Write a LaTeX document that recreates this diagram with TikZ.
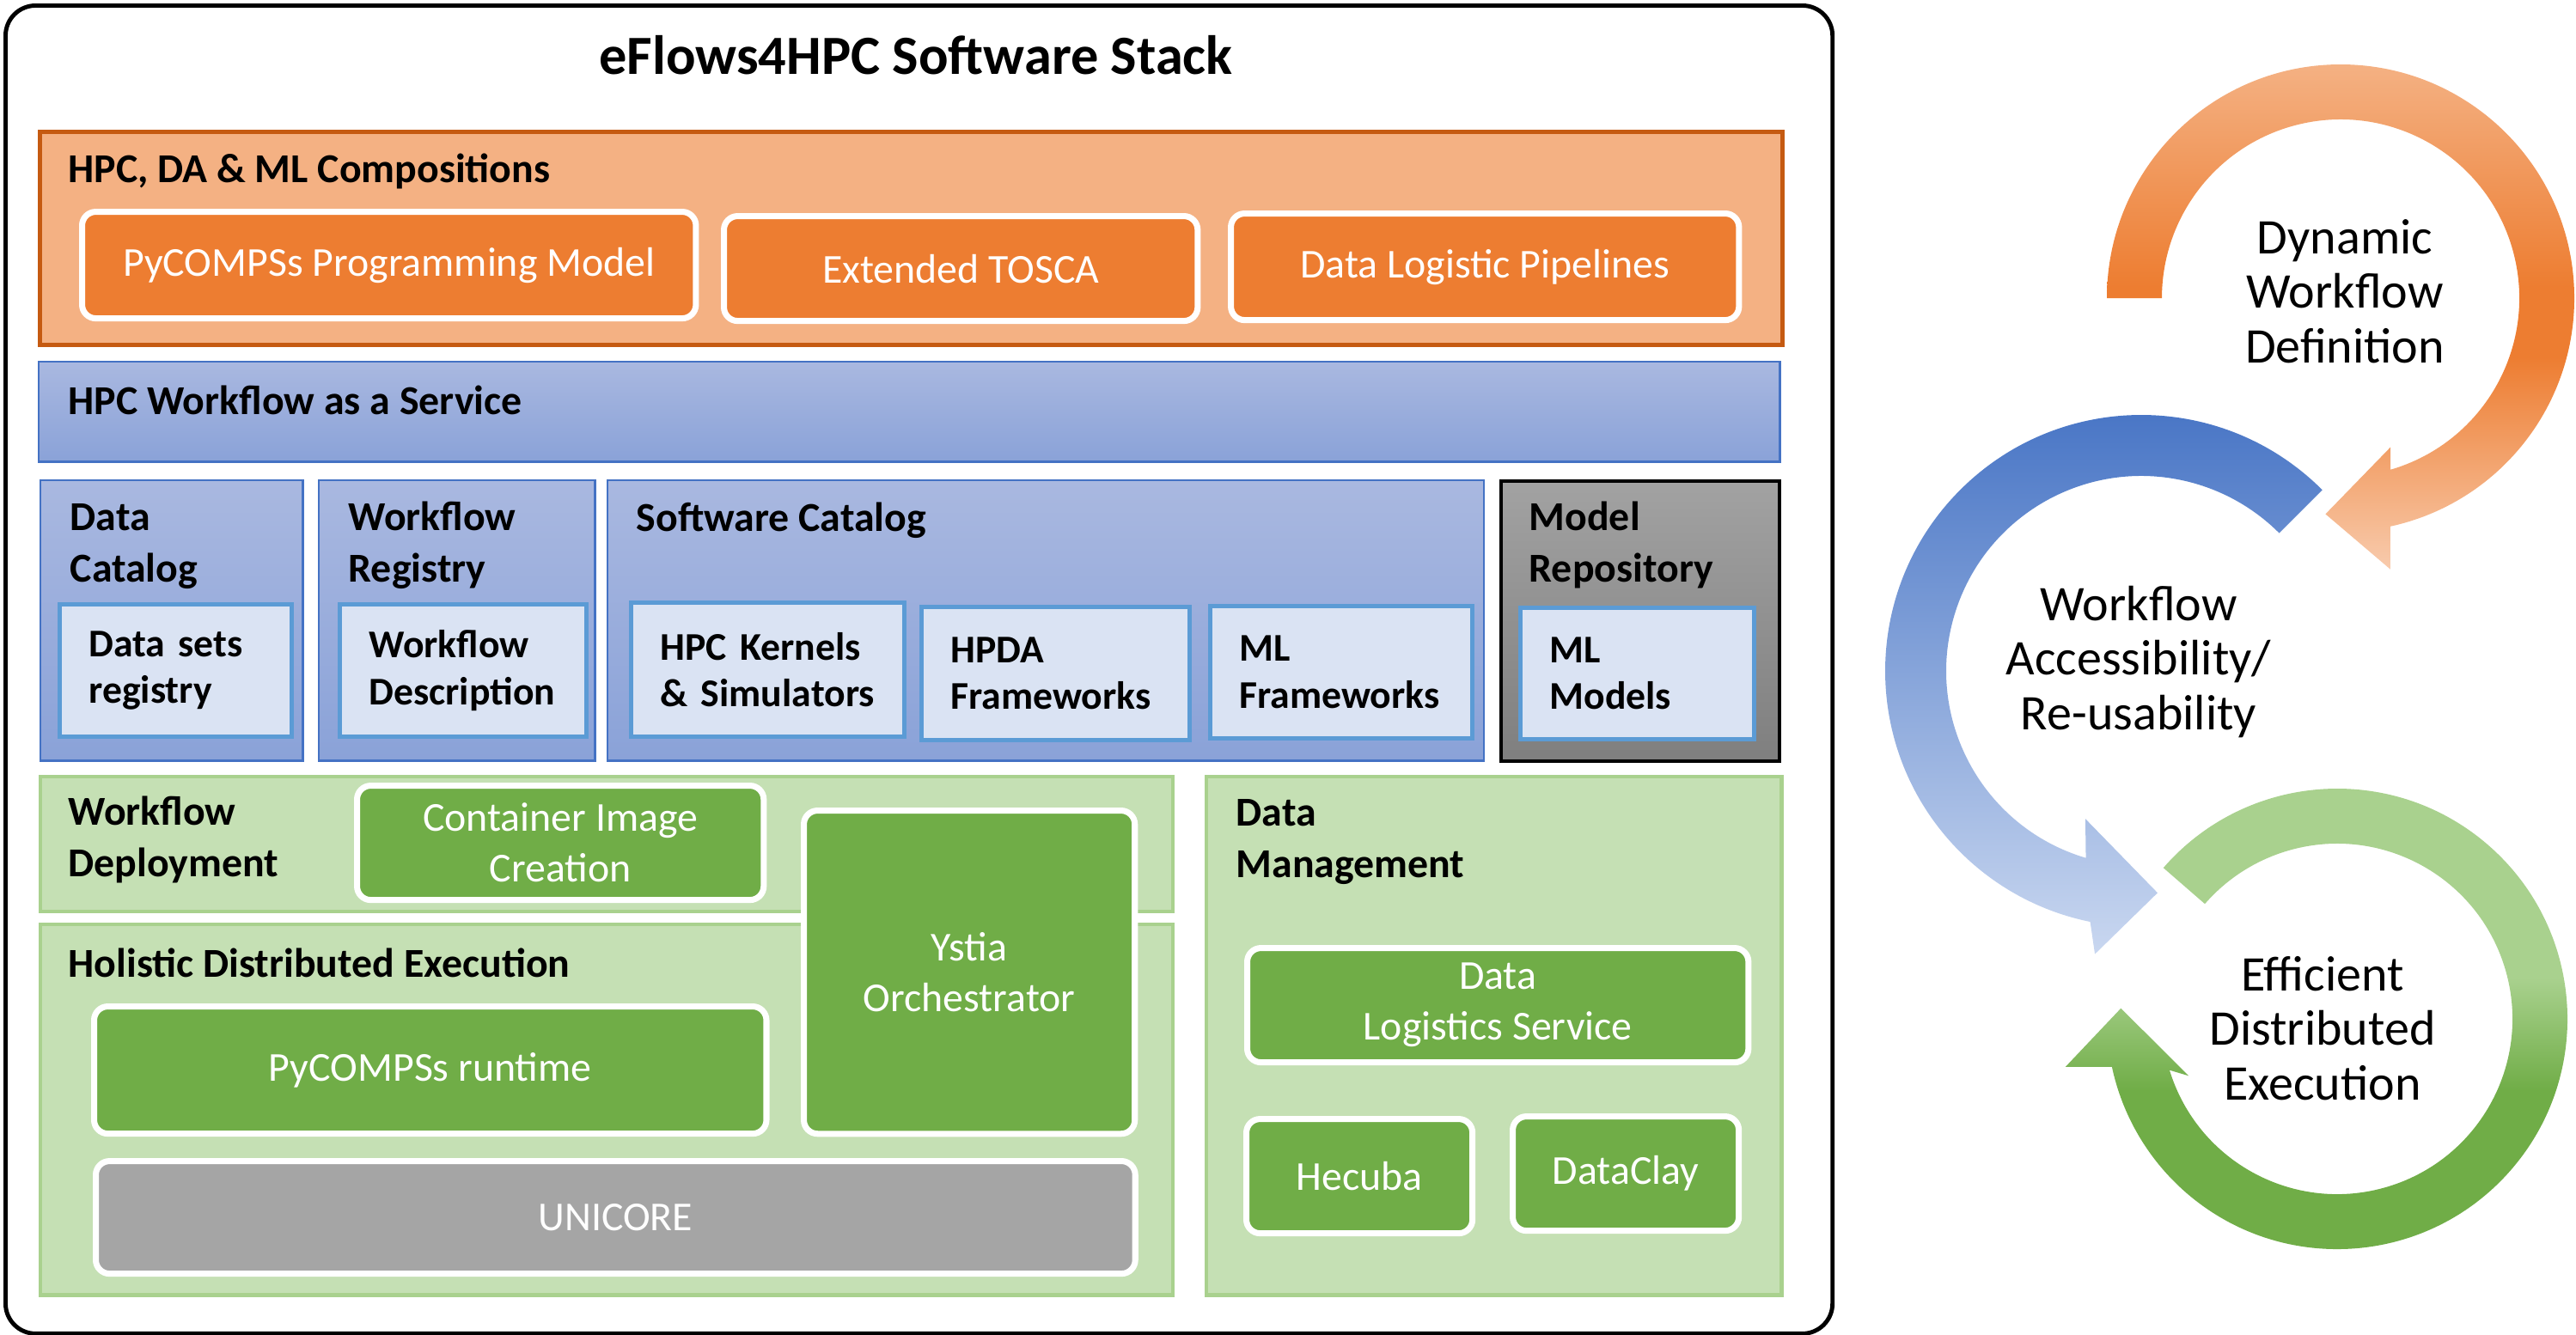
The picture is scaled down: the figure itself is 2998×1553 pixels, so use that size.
\documentclass[tikz,border=0pt]{standalone}
\usepackage{fontspec}
\setmainfont{Carlito}
\usetikzlibrary{calc}

\definecolor{orangeedge}{HTML}{C55A11}
\definecolor{orangepale}{HTML}{F4B183}
\definecolor{orangedeep}{HTML}{ED7D31}
\definecolor{orangelight}{HTML}{F8CBAD}
\definecolor{blueedge}{HTML}{4472C4}
\definecolor{bluetop}{HTML}{A9B8E0}
\definecolor{bluebottom}{HTML}{8AA2D8}
\definecolor{itemedge}{HTML}{5B9BD5}
\definecolor{itemfill}{HTML}{DAE3F3}
\definecolor{greytop}{HTML}{A2A2A2}
\definecolor{greybottom}{HTML}{7F7F7F}
\definecolor{greymid}{HTML}{A5A5A5}
\definecolor{greenedge}{HTML}{A9D18E}
\definecolor{greenpale}{HTML}{C5E0B4}
\definecolor{greendeep}{HTML}{70AD47}
\definecolor{loopbluetop}{HTML}{4472C4}
\definecolor{loopbluebottom}{HTML}{C9D7F0}

\pgfdeclareverticalshading{orangeloop}{100bp}{color(0bp)=(orangelight); color(25bp)=(orangelight);
    color(46bp)=(orangedeep); color(53bp)=(orangedeep); color(75bp)=(orangepale); color(100bp)=(orangepale)}
\pgfdeclareverticalshading{greenloop}{100bp}{color(0bp)=(greendeep); color(43bp)=(greendeep);
    color(54bp)=(greenedge); color(100bp)=(greenedge)}

\newcommand\stacktitle{\fontsize{18.3}{22}\selectfont\bfseries}
\newcommand\stackhead{\fontsize{13.6}{16.8}\selectfont\bfseries}
\newcommand\stackitem{\fontsize{13}{15.5}\selectfont\bfseries}
\newcommand\stacktile{\fontsize{13.6}{16.8}\selectfont}
\newcommand\stackloop{\fontsize{16.5}{18}\selectfont}

\tikzset{
    stackframe/.style = {draw, line width = 1.4pt, rounded corners = 0.35cm, anchor = north west, inner sep = 0pt},
    layer/.style = {anchor = north west, inner sep = 0pt},
    orangelayer/.style = {layer, draw = orangeedge, fill = orangepale, line width = 1.3pt},
    bluelayer/.style = {layer, draw = blueedge, top color = bluetop, bottom color = bluebottom, line width = 0.7pt},
    greylayer/.style = {layer, draw = black, top color = greytop, bottom color = greybottom, line width = 1pt},
    greenlayer/.style = {layer, draw = greenedge, fill = greenpale, line width = 1.2pt},
    tile/.style = {anchor = north west, draw = white, line width = 2pt, rounded corners = 0.16cm,
        text = white, align = center, font = \stacktile},
    orangetile/.style = {tile, fill = orangedeep},
    greentile/.style = {tile, fill = greendeep},
    greytile/.style = {tile, fill = greymid},
    item/.style = {anchor = north west, draw = itemedge, fill = itemfill, line width = 1.4pt,
        inner xsep = 0.34cm, align = left, font = \stackitem},
    heading/.style = {anchor = base west, inner sep = 0pt, align = left, font = \stackhead},
    looptext/.style = {anchor = base, inner sep = 0pt, align = center, font = \stackloop},
}

\begin{document}
\begin{tikzpicture}[x = 0.01cm, y = 0.01cm]
\useasboundingbox (0,0) rectangle (2998,-1553);

% software stack (two-line headings sit on their last baseline)
\node[stackframe, minimum width = 21.25cm, minimum height = 15.45cm] (stack) at (4,-4) {};
\node[font = \stacktitle, anchor = base] (title) at (1066,-86) {eFlows4HPC Software Stack};

\node[orangelayer, minimum width = 20.27cm, minimum height = 2.48cm] (compositions) at (44,-151) {};
\node[heading] (compositionshead) at (79,-212) {HPC, DA \& ML Compositions};
\node[orangetile, minimum width = 7.14cm, minimum height = 1.24cm] (pycompss) at (92,-243) {PyCOMPSs Programming Model};
\node[orangetile, minimum width = 5.51cm, minimum height = 1.22cm] (tosca) at (839,-248) {Extended TOSCA};
\node[orangetile, minimum width = 5.91cm, minimum height = 1.24cm] (pipelines) at (1429,-245) {Data Logistic Pipelines};

\node[bluelayer, minimum width = 20.25cm, minimum height = 1.16cm] (service) at (44,-420) {};
\node[heading] (servicehead) at (79,-482) {HPC Workflow as a Service};

\node[bluelayer, minimum width = 3.05cm, minimum height = 3.26cm] (datacat) at (46,-558) {};
\node[heading] (datacathead) at (81,-677) {Data\\Catalog};
\node[item, minimum width = 2.70cm, minimum height = 1.54cm, text width = 2.02cm] (datasets) at (67,-701) {Data sets\\registry};

\node[bluelayer, minimum width = 3.21cm, minimum height = 3.26cm] (wfreg) at (370,-558) {};
\node[heading] (wfreghead) at (405,-677) {Workflow\\Registry};
\node[item, minimum width = 2.87cm, minimum height = 1.54cm, text width = 2.19cm] (wfdesc) at (393,-701) {Workflow\\Description};

\node[bluelayer, minimum width = 10.19cm, minimum height = 3.26cm] (swcat) at (706,-558) {};
\node[heading] (swcathead) at (740,-618) {Software Catalog};
\node[item, minimum width = 3.18cm, minimum height = 1.56cm, text width = 2.50cm] (kernels) at (732,-699) {HPC Kernels\\\& Simulators};
\node[item, minimum width = 3.12cm, minimum height = 1.55cm, text width = 2.44cm] (hpda) at (1070,-704) {HPDA\\Frameworks};
\node[item, minimum width = 3.05cm, minimum height = 1.54cm, text width = 2.37cm] (mlfw) at (1406,-703) {ML\\Frameworks};

\node[greylayer, minimum width = 3.24cm, minimum height = 3.26cm] (modelrepo) at (1745,-558) {};
\node[heading] (modelhead) at (1779,-677) {Model\\Repository};
\node[item, minimum width = 2.72cm, minimum height = 1.53cm, text width = 2.04cm] (mlmodels) at (1767,-705) {ML\\Models};

\node[greenlayer, minimum width = 13.17cm, minimum height = 1.57cm] (deploy) at (45,-902) {};
\node[heading] (deployhead) at (79,-1020) {Workflow\\Deployment};
\node[greentile, minimum width = 4.73cm, minimum height = 1.33cm] (container) at (412,-911) {Container Image\\Creation};

\node[greenlayer, minimum width = 13.17cm, minimum height = 4.31cm] (holistic) at (45,-1074) {};
\node[heading] (holistichead) at (79,-1137) {Holistic Distributed Execution};
\node[greentile, minimum width = 7.82cm, minimum height = 1.48cm] (runtime) at (106,-1168) {PyCOMPSs runtime};
\node[greytile, minimum width = 12.09cm, minimum height = 1.31cm] (unicore) at (108,-1348) {UNICORE};
\node[greentile, minimum width = 3.85cm, minimum height = 3.76cm] (ystia) at (932,-940) {Ystia\\Orchestrator};

\node[greenlayer, minimum width = 6.69cm, minimum height = 6.03cm] (datamgmt) at (1402,-902) {};
\node[heading] (datamgmthead) at (1438,-1021) {Data\\Management};
\node[greentile, minimum width = 5.83cm, minimum height = 1.33cm] (logistics) at (1448,-1100) {Data\\Logistics Service};
\node[greentile, minimum width = 2.63cm, minimum height = 1.33cm] (hecuba) at (1447,-1299) {Hecuba};
\node[greentile, minimum width = 2.63cm, minimum height = 1.33cm] (dataclay) at (1757,-1296) {DataClay};

% lifecycle loops
\coordinate (defloop) at (2724,-347);
\coordinate (accloop) at (2492,-781);
\coordinate (execloop) at (2720,-1186);

\shade[shading = orangeloop] ($(defloop)+(180:272)$) arc[start angle = 180, end angle = -77.7, radius = 272]
    -- ($(defloop)+(-79.6:321)$) -- ($(defloop)+(-94:252)$) -- ($(defloop)+(-71.5:183)$)
    -- ($(defloop)+(-73.8:208)$) arc[start angle = -73.8, end angle = 180, radius = 208] -- cycle;
\shade[top color = loopbluetop, bottom color = loopbluebottom] ($(accloop)+(45:298)$) arc[start angle = 45, end angle = 258.5, radius = 298]
    -- ($(accloop)+(260.7:334)$) -- ($(accloop)+(274.2:259)$) -- ($(accloop)+(249.3:184)$)
    -- ($(accloop)+(253.5:227)$) arc[start angle = 253.5, end angle = 45, radius = 227] -- cycle;
\shade[shading = greenloop] ($(execloop)+(139:268)$) arc[start angle = 139, end angle = -168, radius = 268]
    -- ($(execloop)+(-170:321)$) -- ($(execloop)+(-182.8:252)$) -- ($(execloop)+(-159:185)$)
    -- ($(execloop)+(-163:204)$) arc[start angle = -163, end angle = 139, radius = 204] -- cycle;

\node[looptext] (deftext) at (2729,-422) {Dynamic\\Workflow\\Definition};
\node[looptext] (acctext) at (2489,-849) {Workflow\\Accessibility/\\Re-usability};
\node[looptext] (exectext) at (2703,-1280) {Efficient\\Distributed\\Execution};
\end{tikzpicture}
\end{document}
